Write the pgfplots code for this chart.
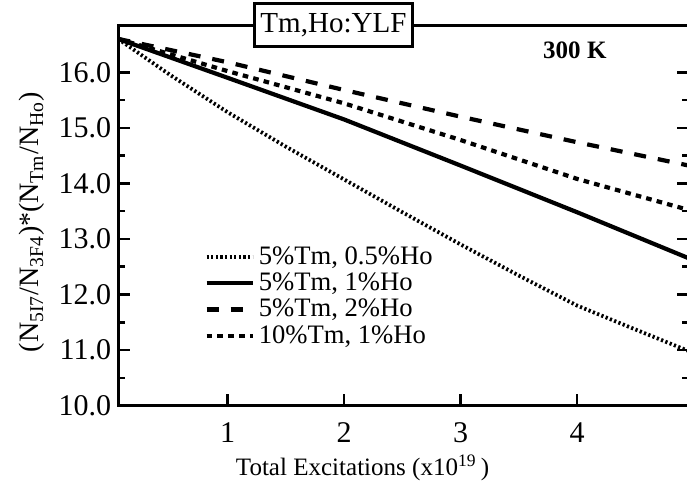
\documentclass[border=0pt]{standalone}
\usepackage{fontspec}
\setmainfont{Liberation Serif}
\usepackage{pgfplots}
\pgfplotsset{compat=1.18}

\begin{document}
\begin{tikzpicture}
\begin{axis}[
  name=ax,
  scale only axis, width=285pt, height=190pt,
  xmin=0.06, xmax=4.96, ymin=10, ymax=16.85,
  xtick={1,2,3,4}, ytick={10,11,...,16}, minor y tick num=1,
  xtick pos=left,
  axis line style={line width=1.5pt},
  major tick style={line width=1.3pt, black}, minor tick style={line width=1.3pt, black},
  major tick length=6pt, minor tick length=3.5pt,
  tick label style={font=\fontsize{15}{17}\selectfont},
  /pgf/number format/assume math mode=true,
  yticklabel style={/pgf/number format/fixed, /pgf/number format/fixed zerofill, /pgf/number format/precision=1},
  xticklabel style={yshift=-5pt},
  legend style={at={(axis description cs:0.14,0.44)}, anchor=north west, draw=none, fill=none,
    font=\fontsize{13.3}{15}\selectfont, row sep=-1.2pt},
  legend cell align=left,
  legend image code/.code={\draw[#1] (0pt,0pt) -- (23pt,0pt);},
  every legend entry/.append style={xshift=2pt},
]
% 5% Tm, 0.5% Ho
\addplot[black, line width=1.9pt, dash pattern=on 1.1pt off 1.2pt] coordinates {
  (0.06,16.60) (0.5,15.96) (1,15.28) (1.5,14.66) (2,14.07) (2.5,13.48)
  (3,12.90) (3.5,12.34) (4,11.80) (4.5,11.37) (4.96,10.98)};
\addlegendentry{5\%Tm, 0.5\%Ho}
% 5% Tm, 1% Ho
\addplot[black, line width=2.1pt] coordinates {
  (0.06,16.60) (1,15.90) (2,15.15) (3,14.32) (4,13.48) (4.96,12.65)};
\addlegendentry{5\%Tm, 1\%Ho}
% 5% Tm, 2% Ho
\addplot[black, line width=2.1pt, dash pattern=on 6pt off 6pt] coordinates {
  (0.06,16.60) (1,16.18) (2,15.68) (3,15.20) (4,14.74) (4.96,14.32)};
\addlegendentry{5\%Tm, 2\%Ho}
% 10% Tm, 1% Ho
\addplot[black, line width=2.1pt, dash pattern=on 2.8pt off 2.6pt] coordinates {
  (0.06,16.60) (1,16.02) (2,15.44) (3,14.78) (4,14.08) (4.96,13.52)};
\addlegendentry{10\%Tm, 1\%Ho}
\end{axis}

\node[draw, line width=1.3pt, fill=white, inner xsep=3pt, inner ysep=5pt, font=\fontsize{14.5}{16}\selectfont]
  at ([xshift=107.5pt]ax.north west) {Tm,Ho:YLF};
\node[font=\bfseries\fontsize{12.5}{14}\selectfont] at ([xshift=228pt, yshift=-12.5pt]ax.north west) {300 K};
\node[font=\fontsize{12.5}{14}\selectfont] at ([xshift=122pt, yshift=-31pt]ax.south west)
  {Total Excitations (x10\textsuperscript{19}\,)};
\node[rotate=90, font=\fontsize{14}{16}\selectfont] at ([xshift=-43pt, yshift=-98.5pt]ax.north west)
  {(N\textsubscript{5I7}/N\textsubscript{3F4})*(N\textsubscript{Tm}/N\textsubscript{Ho})};

\pgfresetboundingbox
\path ([shift={(-59pt,-39pt)}]ax.south west) rectangle ([shift={(-1pt,12.5pt)}]ax.north east);
\end{tikzpicture}
\end{document}
